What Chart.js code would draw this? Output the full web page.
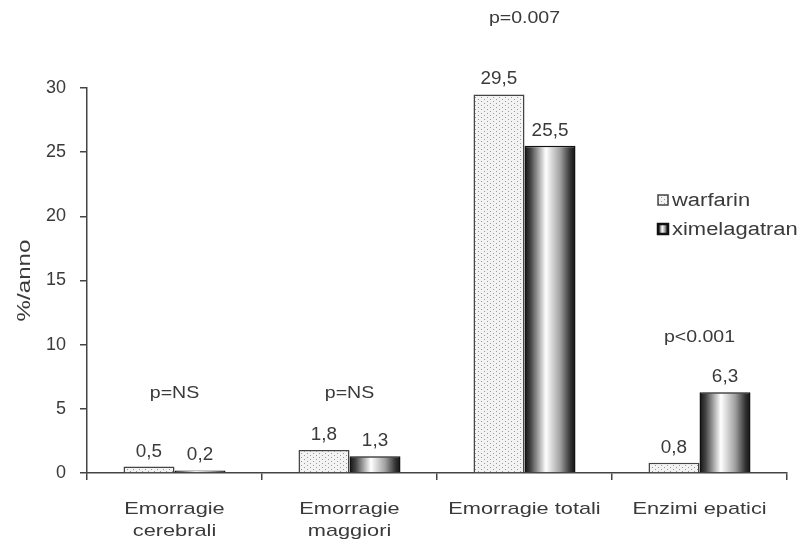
<!DOCTYPE html>
<html>
<head>
<meta charset="utf-8">
<script src="https://cdn.jsdelivr.net/npm/chart.js@4.4.1/dist/chart.umd.min.js"></script>
<style>
  html, body { margin: 0; padding: 0; background: #fff; }
  #wrap { width: 806px; height: 544px; }
</style>
</head>
<body>
<div id="wrap"><canvas id="c" width="806" height="544"></canvas></div>
<script>
// Categories, series and annotations
const categories = [['Emorragie', 'cerebrali'], ['Emorragie', 'maggiori'], 'Emorragie totali', 'Enzimi epatici'];
const warfarin = [0.5, 1.8, 29.5, 0.8];
const ximelagatran = [0.2, 1.3, 25.5, 6.3];
const pLabels = ['p=NS', 'p=NS', 'p=0.007', 'p<0.001'];
const pLevels = [6.2, 6.2, 35.4, 10.6];   // value level at which each p-label sits
const yTickMin = 0, yTickMax = 30, yTickStep = 5;

const FONT = '"Liberation Sans", Arial, sans-serif';
const TEXT = '#3a3a3a';
const CAT_PCT = 0.583;

// dotted fill for the warfarin bars
function dotPattern() {
  const t = document.createElement('canvas');
  t.width = 6; t.height = 4;
  const g = t.getContext('2d');
  g.fillStyle = '#f3f3f3';
  g.fillRect(0, 0, 6, 4);
  g.fillStyle = '#9a9a9a';
  g.fillRect(1, 1, 1, 1);
  g.fillRect(4, 3, 1, 1);
  return g.createPattern(t, 'repeat');
}
const pattern = dotPattern();

// cylinder shading across a bar from x0 to x1
function cylinder(ctx, x0, x1) {
  const gr = ctx.createLinearGradient(x0, 0, x1, 0);
  gr.addColorStop(0, '#111');
  gr.addColorStop(0.12, '#444');
  gr.addColorStop(0.42, '#ffffff');
  gr.addColorStop(0.7, '#a0a0a0');
  gr.addColorStop(0.9, '#333');
  gr.addColorStop(1, '#111');
  return gr;
}

function ximFill(c) {
  const chart = c.chart;
  const xs = chart.scales.x;
  if (!xs || !xs.width) return '#888';
  const center = xs.getPixelForValue(c.dataIndex);
  const w = xs.width / categories.length * CAT_PCT / 2;
  return cylinder(chart.ctx, center, center + w);
}

const fmt = v => v.toFixed(1).replace('.', ',');

// run draw() with every fillText widened horizontally by sx around its anchor
function withStretch(ctx, sx, draw) {
  const orig = ctx.fillText;
  ctx.fillText = function (t, x, y, mw) {
    this.save();
    this.translate(x, y);
    this.scale(sx, 1);
    if (mw === undefined) orig.call(this, t, 0, 0);
    else orig.call(this, t, 0, 0, mw / sx);
    this.restore();
  };
  try { draw(); } finally { delete ctx.fillText; }
}

// wrap one of a scale's draw steps so its text comes out widened
function stretched(scale, method, sx) {
  const key = '__wide_' + method;
  if (scale[key]) return;
  const orig = scale[method];
  scale[method] = function (a) {
    withStretch(this.ctx, sx, () => orig.call(this, a));
  };
  scale[key] = true;
}

// value labels above bars and p-value annotations
const annotate = {
  id: 'annotate',
  afterDatasetsDraw(chart) {
    const ctx = chart.ctx;
    const ys = chart.scales.y, xs = chart.scales.x;
    ctx.save();
    ctx.fillStyle = TEXT;
    ctx.textAlign = 'center';
    ctx.textBaseline = 'alphabetic';
    ctx.font = '18px ' + FONT;
    withStretch(ctx, 1.05, () => {
      chart.data.datasets.forEach((ds, i) => {
        chart.getDatasetMeta(i).data.forEach((bar, j) => {
          ctx.fillText(fmt(ds.data[j]), bar.x, bar.y - 10);
        });
      });
    });
    ctx.font = '17px ' + FONT;
    ctx.textBaseline = 'middle';
    withStretch(ctx, 1.15, () => {
      pLabels.forEach((t, j) => {
        ctx.fillText(t, xs.getPixelForValue(j), ys.getPixelForValue(pLevels[j]));
      });
    });
    ctx.restore();
  }
};

// legend drawn inside the plot area
const innerLegend = {
  id: 'innerLegend',
  afterDraw(chart) {
    const ctx = chart.ctx;
    const x = 658, ys = [200, 229], box = 10;
    ctx.save();
    ctx.font = '18px ' + FONT;
    ctx.textBaseline = 'middle';
    ctx.textAlign = 'left';
    chart.data.datasets.forEach((ds, i) => {
      const y = ys[i];
      if (i === 0) {
        ctx.fillStyle = pattern;
        ctx.fillRect(x, y - box / 2, box, box);
        ctx.strokeStyle = '#444';
        ctx.lineWidth = 1.5;
      } else {
        ctx.fillStyle = cylinder(ctx, x, x + box);
        ctx.fillRect(x, y - box / 2, box, box);
        ctx.strokeStyle = '#111';
        ctx.lineWidth = 2.5;
      }
      ctx.strokeRect(x, y - box / 2, box, box);
      ctx.fillStyle = TEXT;
      withStretch(ctx, 1.22, () => ctx.fillText(ds.label, x + box + 4, y + 1));
    });
    ctx.restore();
  }
};

new Chart(document.getElementById('c'), {
  type: 'bar',
  data: {
    labels: categories,
    datasets: [
      {
        label: 'warfarin',
        data: warfarin,
        backgroundColor: pattern,
        borderColor: '#444',
        borderWidth: 1.5
      },
      {
        label: 'ximelagatran',
        data: ximelagatran,
        backgroundColor: ximFill,
        borderColor: '#111',
        borderWidth: 1.5
      }
    ]
  },
  options: {
    responsive: false,
    animation: false,
    events: [],
    layout: { padding: { top: 88, right: 19, left: 0, bottom: 0 } },
    datasets: { bar: { categoryPercentage: CAT_PCT, barPercentage: 1 } },
    plugins: { legend: { display: false }, tooltip: { enabled: false } },
    scales: {
      x: {
        grid: { display: true, offset: true, drawOnChartArea: false, drawTicks: true, tickLength: 7, color: '#444', lineWidth: 1.5 },
        border: { display: true, color: '#444', width: 1.5 },
        ticks: { color: TEXT, font: { family: FONT, size: 17, lineHeight: 1.25 }, padding: 19, maxRotation: 0, autoSkip: false },
        afterFit(s) { s.height = 71; stretched(s, 'drawLabels', 1.28); }
      },
      y: {
        min: yTickMin,
        max: yTickMax,
        ticks: { stepSize: yTickStep, color: TEXT, font: { family: FONT, size: 18 }, padding: 14 },
        grid: { display: true, drawOnChartArea: false, drawTicks: true, tickLength: 7, color: '#444', lineWidth: 1.5 },
        border: { display: true, color: '#444', width: 1.5 },
        title: { display: true, text: '%/anno', color: TEXT, font: { family: FONT, size: 18 }, padding: { top: 14, bottom: 0 } },
        afterFit(s) { s.width = 87; stretched(s, 'drawTitle', 1.34); }
      }
    }
  },
  plugins: [annotate, innerLegend]
});
</script>
</body>
</html>
